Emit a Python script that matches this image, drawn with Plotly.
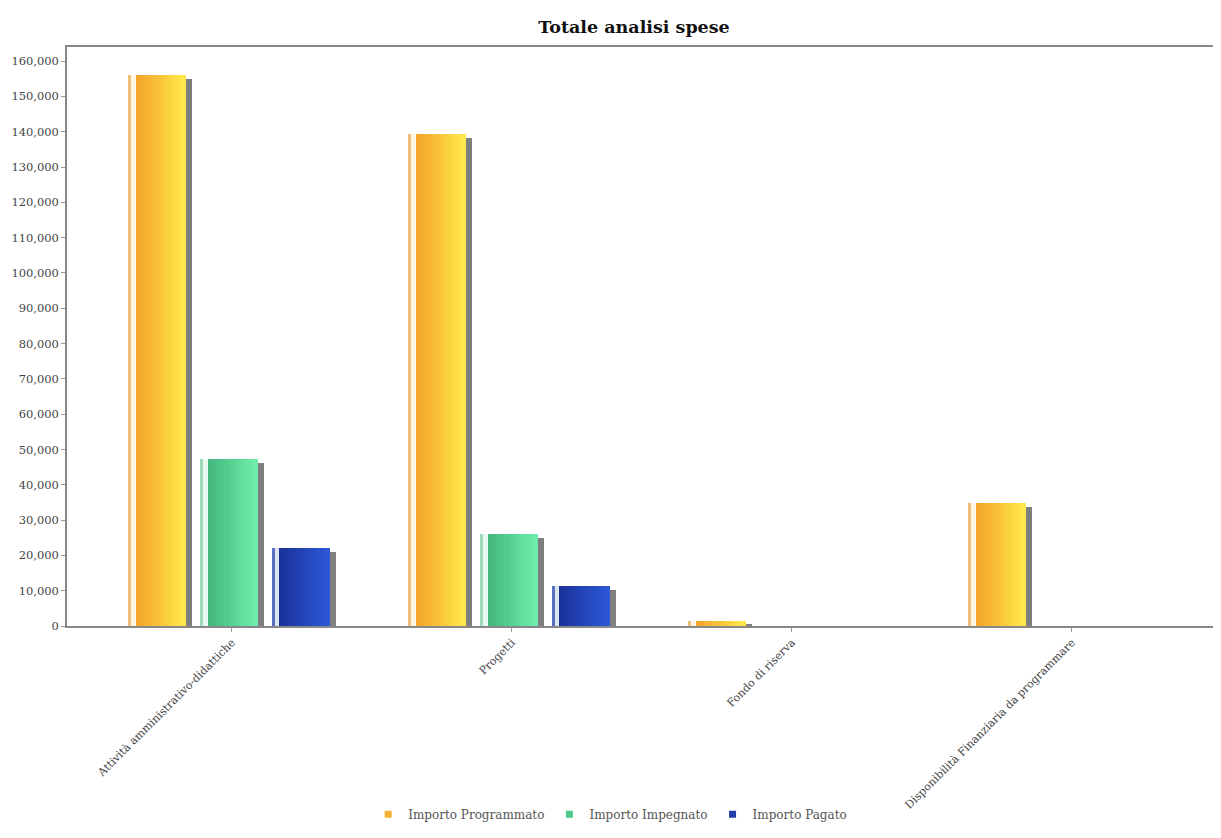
import plotly.graph_objects as go

# ---- data ----
categories = [
    "Attività amministrativo-didattiche",
    "Progetti",
    "Fondo di riserva",
    "Disponibilità Finanziaria da programmare",
]
series_names = ["Importo Programmato", "Importo Impegnato", "Importo Pagato"]
programmato = [156000, 139400, 1400, 34800]
impegnato = [47300, 26000, 0, 0]
pagato = [22100, 11300, 0, 0]
y_ticks = list(range(0, 160001, 10000))
title_text = "Totale analisi spese"

# ---- style ----
series_values = [programmato, impegnato, pagato]
legend_colors = ["#F5B335", "#4FC98C", "#223FAA"]
# (edge color, highlight color, gradient start, gradient end)
bar_styles = [
    ("#EFC07C", "#FFF6E4", "#F4A52A", "#FFE84A"),
    ("#9FD9B9", "#EAF9F0", "#44B87F", "#6EEDAA"),
    ("#5A72C0", "#DCE4F6", "#1A349C", "#2C57D6"),
]


def hex_to_rgb(h):
    h = h.lstrip("#")
    return tuple(int(h[i:i + 2], 16) for i in (0, 2, 4))


def mix(c1, c2, t):
    a, b = hex_to_rgb(c1), hex_to_rgb(c2)
    return "rgb(%d,%d,%d)" % tuple(round(a[i] + (b[i] - a[i]) * t) for i in range(3))


def make_strips(edge, hi, g0, g1, n=12):
    out = [(0.00, 0.05, edge), (0.05, 0.13, hi)]
    start = 0.13
    step = (1.0 - start) / n
    for k in range(n):
        t = k / (n - 1)
        out.append((start + k * step, start + (k + 1) * step + 0.002, mix(g0, g1, t)))
    return out


bar_w = 0.207      # in category units
pitch = 0.257
first_off = -0.371
shadow_dx = 0.02
shadow_dy = 1100   # shadow top lowered slightly

x_idx = list(range(len(categories)))

fig = go.Figure()

for s, (name, vals) in enumerate(zip(series_names, series_values)):
    off = first_off + s * pitch
    fig.add_trace(go.Bar(
        x=x_idx, y=[max(v - shadow_dy, 0) if v > 0 else 0 for v in vals],
        offset=off + shadow_dx, width=bar_w,
        marker=dict(color="#7F7F7F", line=dict(width=0)),
        showlegend=False, hoverinfo="skip",
    ))
    for k, (a, b, col) in enumerate(make_strips(*bar_styles[s])):
        fig.add_trace(go.Bar(
            x=x_idx, y=vals,
            offset=off + a * bar_w, width=(b - a) * bar_w,
            marker=dict(color=col, line=dict(width=0)),
            showlegend=False, hoverinfo="skip" if k else None,
            name=name,
        ))
    fig.add_trace(go.Scatter(
        x=[None], y=[None], name=name, mode="markers",
        marker=dict(color=legend_colors[s], symbol="square", size=7),
        showlegend=True,
    ))

fig.update_layout(
    width=1205, height=822,
    barmode="overlay",
    paper_bgcolor="white", plot_bgcolor="white",
    margin=dict(l=59, r=0, t=39, b=204),
    title=dict(text="<b>" + title_text + "</b>", x=0.5195, xanchor="center",
               y=1 - 19 / 822, yanchor="middle",
               font=dict(family="DejaVu Serif", size=17.5, color="#111111")),
    font=dict(family="DejaVu Serif", color="#444444", size=11),
    showlegend=True,
    legend=dict(orientation="h", x=0.474, xanchor="center", y=-0.35, yanchor="bottom",
                font=dict(family="DejaVu Serif", size=12, color="#555555"),
                itemwidth=30, traceorder="normal"),
    bargap=0,
)
fig.update_xaxes(
    tickmode="array", tickvals=x_idx, ticktext=categories,
    range=[-0.589, 3.504], tickangle=-45,
    tickfont=dict(family="DejaVu Serif", size=11, color="#444444"),
    showline=True, linecolor="#888888", linewidth=1.5, mirror=True,
    ticks="outside", ticklen=4, tickcolor="#999999",
    showgrid=False, zeroline=False,
)
fig.update_yaxes(
    range=[0, 164000], tickvals=y_ticks, tickformat=",",
    tickfont=dict(family="DejaVu Serif", size=11.5, color="#444444"),
    showline=True, linecolor="#888888", linewidth=1.5, mirror=False,
    ticks="outside", ticklen=4, tickcolor="#999999",
    showgrid=False, zeroline=False,
)

fig.write_html("out.html")
